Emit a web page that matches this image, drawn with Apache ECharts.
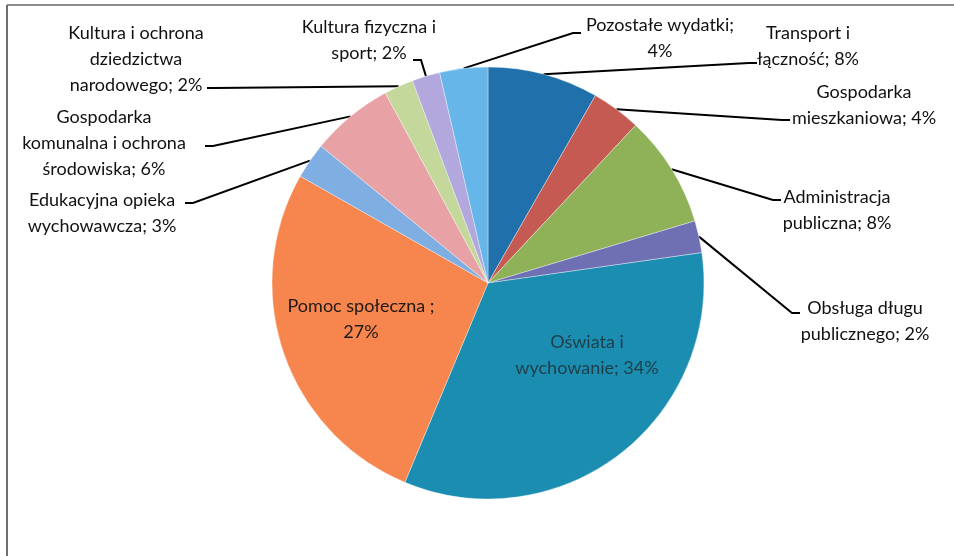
<!DOCTYPE html>
<html>
<head>
<meta charset="utf-8">
<title>Struktura wydatków</title>
<style>
  html, body { margin: 0; padding: 0; background: #fff; }
  #chart { width: 954px; height: 556px; }
</style>
<script src="https://cdn.jsdelivr.net/npm/echarts@6/dist/echarts.min.js"></script>
</head>
<body>
<div id="chart"></div>
<script>
// działy wydatków, od godz. 12 zgodnie z ruchem wskazówek zegara
var categories = [
  'Transport i łączność',
  'Gospodarka mieszkaniowa',
  'Administracja publiczna',
  'Obsługa długu publicznego',
  'Oświata i wychowanie',
  'Pomoc społeczna ',
  'Edukacyjna opieka wychowawcza',
  'Gospodarka komunalna i ochrona środowiska',
  'Kultura i ochrona dziedzictwa narodowego',
  'Kultura fizyczna i sport',
  'Pozostałe wydatki'
]
var shares = [8.3, 3.7, 8.4, 2.4, 33.6, 27.0, 2.7, 6.2, 2.2, 2.1, 3.6]
var colors = ['#1f70ab', '#c55a52', '#8fb157', '#6e70b3', '#1b8db0', '#f6854e',
              '#7eaee2', '#e8a2a5', '#c3d89a', '#b3a8dd', '#66b6ea']

// układ etykiet - tylko wygląd
var insideLabels = [4, 5]
var labelWraps = [[2], [1], [1], [2], [2], [3], [2], [1, 4], [3, 4], [3], [2]] // łamanie po n słowach
var labelPos = [[808, 33], [864, 92], [837, 197], [865, 308], [587, 342], [361, 306],
                [102, 200], [104, 117], [136, 33], [369, 27], [660, 25]] // środek x, y 1. wiersza
var leaderEnds = [[757, 63], [790, 120], [781, 200], [800, 313], null, null,
                  [185, 203], [205, 146], [207, 88], [413, 60], [581, 33]]
var LINE_H = 26

function labelText(i) {
  var words = (categories[i] + '; ' + Math.round(shares[i]) + '%').split(' ')
  var breaks = labelWraps[i]
  var lines = [], cur = []
  for (var k = 0; k < words.length; k++) {
    cur.push(words[k])
    if (breaks.indexOf(k + 1) !== -1) {
      lines.push(cur.join(' '))
      cur = []
    }
  }
  if (cur.length) lines.push(cur.join(' '))
  return lines.join('\n')
}

var data = []
for (var i = 0; i < categories.length; i++) {
  var item = { name: categories[i], value: shares[i], itemStyle: { color: colors[i] } }
  if (insideLabels.indexOf(i) !== -1) {
    item.label = { position: 'inside', color: i === 4 ? '#1f3e49' : '#221a14' }
    item.labelLine = { show: false }
  }
  data.push(item)
}

var chart = echarts.init(document.getElementById('chart'))

chart.setOption({
  animation: false,
  graphic: [
    { type: 'line', shape: { x1: 7, y1: 5, x2: 954, y2: 5 }, style: { stroke: '#8c8c8c', lineWidth: 2 } },
    { type: 'line', shape: { x1: 7, y1: 5, x2: 7, y2: 556 }, style: { stroke: '#6f6f6f', lineWidth: 2 } }
  ],
  series: [{
    type: 'pie',
    center: [488, 283],
    radius: 216,
    startAngle: 90,
    clockwise: true,
    avoidLabelOverlap: false,
    silent: true,
    data: data,
    itemStyle: { borderColor: 'rgba(255,255,255,0.6)', borderWidth: 0.6 },
    label: {
      show: true,
      position: 'outside',
      fontFamily: 'Lato',
      fontSize: 18,
      lineHeight: LINE_H,
      color: '#111',
      align: 'center',
      formatter: function (p) { return labelText(p.dataIndex) }
    },
    labelLine: {
      show: true,
      length: 10,
      length2: 10,
      lineStyle: { color: '#000', width: 2 }
    },
    labelLayout: function (params) {
      var i = params.dataIndex
      var n = labelWraps[i].length + 1
      var res = {
        x: labelPos[i][0],
        y: labelPos[i][1] + (n - 1) * LINE_H / 2,
        align: 'center',
        verticalAlign: 'middle'
      }
      var end = leaderEnds[i]
      if (end && params.labelLinePoints) {
        var a = params.labelLinePoints[0]
        var dir = a[0] > end[0] ? 1 : -1
        res.labelLinePoints = [a, [end[0] + dir * 8, end[1]], end]
      }
      return res
    }
  }]
})
</script>
</body>
</html>
